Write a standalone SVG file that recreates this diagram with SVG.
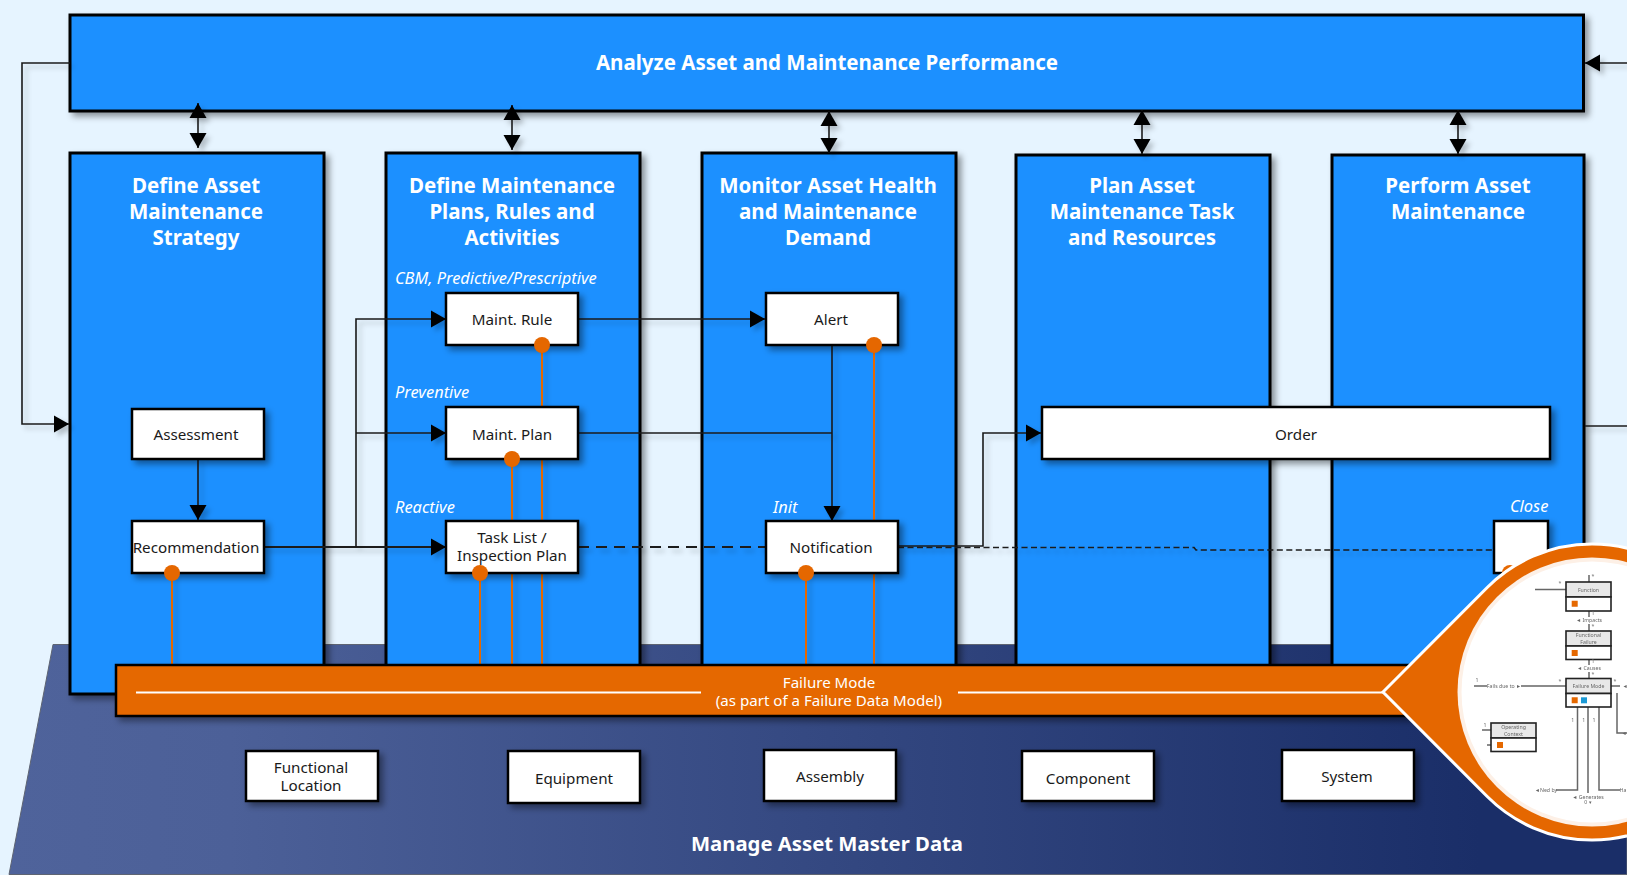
<svg xmlns="http://www.w3.org/2000/svg" width="1627" height="875" viewBox="0 0 1627 875">
<defs>
<linearGradient id="base" gradientUnits="userSpaceOnUse" x1="9" y1="0" x2="1480" y2="0"><stop offset="0" stop-color="#4f639b"/><stop offset="0.15" stop-color="#4c6098"/><stop offset="1" stop-color="#1a2e68"/></linearGradient>
<filter id="sh" x="-20%" y="-20%" width="150%" height="150%"><feDropShadow dx="4" dy="4" stdDeviation="3" flood-color="#000" flood-opacity="0.4"/></filter>
<filter id="lsh" filterUnits="userSpaceOnUse" x="0" y="0" width="1627" height="875"><feDropShadow dx="4" dy="4" stdDeviation="2.5" flood-color="#000" flood-opacity="0.22"/></filter>
<filter id="blur" filterUnits="userSpaceOnUse" x="1450" y="550" width="177" height="290"><feGaussianBlur stdDeviation="0.5"/></filter>
<marker id="a" markerUnits="userSpaceOnUse" markerWidth="17" markerHeight="19" refX="15" refY="9" orient="auto-start-reverse"><path d="M0,0.5 L15,9 L0,17.5 Z" fill="#000"/></marker>
</defs>
<style>
text{font-family:"Noto Sans","Open Sans","Liberation Sans",sans-serif;text-anchor:middle}
.col{fill:#1e90ff;stroke:#000;stroke-width:3}
.box{fill:#fff;stroke:#000;stroke-width:2.5}
.t{font-size:15.2px;fill:#1a1a1a}
.h{font-size:20.5px;font-weight:700;fill:#fff}
.i{font-size:16.4px;font-style:italic;fill:#fff;text-anchor:start}
.f{font-size:15.1px;fill:#fff}
.c{fill:none;stroke:#1a1a1a;stroke-width:1.6}
.o{fill:none;stroke:#e56700;stroke-width:2}
.d{fill:#e56700}
.g{fill:#e8e8e8;stroke:#222;stroke-width:1.6}
.w{fill:#fff;stroke:#222;stroke-width:1.6}
.m{font-size:5.2px;fill:#666}
.l{fill:none;stroke:#666;stroke-width:1.5}
</style>
<rect width="1627" height="875" fill="#e6f4ff"/>
<path id="base-shape" d="M53,644.5 H1627 V874.5 H9 Z" fill="url(#base)" stroke="#5e6472" stroke-width="1"/>
<g id="analyze"><rect class="col" x="70" y="15" width="1513.500" height="96" filter="url(#sh)"/><text class="h" x="827" y="70">Analyze Asset and Maintenance Performance</text></g>
<g id="col1"><rect class="col" x="70" y="153" width="254" height="541" filter="url(#sh)"/><text class="h"><tspan x="196" y="193">Define Asset</tspan><tspan x="196" y="219">Maintenance</tspan><tspan x="196" y="245">Strategy</tspan></text></g>
<g id="col2"><rect class="col" x="386" y="153" width="254" height="541" filter="url(#sh)"/><text class="h"><tspan x="512" y="193">Define Maintenance</tspan><tspan x="512" y="219">Plans, Rules and</tspan><tspan x="512" y="245">Activities</tspan></text><text class="i" x="395" y="284">CBM, Predictive/Prescriptive</text><text class="i" x="395" y="398">Preventive</text><text class="i" x="395" y="513">Reactive</text></g>
<g id="col3"><rect class="col" x="702" y="153" width="254" height="541" filter="url(#sh)"/><text class="h"><tspan x="828" y="193">Monitor Asset Health</tspan><tspan x="828" y="219">and Maintenance</tspan><tspan x="828" y="245">Demand</tspan></text><text class="i" x="773" y="513">Init</text></g>
<g id="col4"><rect class="col" x="1016" y="155" width="254" height="539" filter="url(#sh)"/><text class="h"><tspan x="1142" y="193">Plan Asset</tspan><tspan x="1142" y="219">Maintenance Task</tspan><tspan x="1142" y="245">and Resources</tspan></text></g>
<g id="col5"><rect class="col" x="1332" y="155" width="252" height="539" filter="url(#sh)"/><text class="h"><tspan x="1458" y="193">Perform Asset</tspan><tspan x="1458" y="219">Maintenance</tspan></text><text class="i" x="1510" y="512">Close</text></g>
<g id="connectors" filter="url(#lsh)">
<path class="c" d="M70,63 H22 V424 H69" marker-end="url(#a)"/>
<path class="c" d="M1627,63 H1585" marker-end="url(#a)"/>
<path class="c" d="M1585,426 H1627"/>
<path class="c" d="M198,103 V148" marker-start="url(#a)" marker-end="url(#a)"/>
<path class="c" d="M512,105 V150" marker-start="url(#a)" marker-end="url(#a)"/>
<path class="c" d="M829,111 V153" marker-start="url(#a)" marker-end="url(#a)"/>
<path class="c" d="M1142,110 V154" marker-start="url(#a)" marker-end="url(#a)"/>
<path class="c" d="M1458,110 V154" marker-start="url(#a)" marker-end="url(#a)"/>
<path class="c" d="M198,459 V520" marker-end="url(#a)"/>
<path class="c" style="stroke-width:2" d="M264,547 H446" marker-end="url(#a)"/>
<path class="c" d="M356,547 V319 H446" marker-end="url(#a)"/>
<path class="c" d="M356,433 H446" marker-end="url(#a)"/>
<path class="c" d="M578,319 H765" marker-end="url(#a)"/>
<path class="c" d="M578,433 H832"/>
<path class="c" d="M832,345 V521" marker-end="url(#a)"/>
<path class="c" style="stroke-width:2" d="M578,547 H765" stroke-dasharray="11 7"/>
<path class="c" d="M898,547.500 H1194 L1196,550 H1494" stroke-dasharray="6 3.500"/>
<path class="c" d="M898,546 H983 V433 H1041" marker-end="url(#a)"/>
<path class="o" d="M172,572 V665"/><path class="o" d="M480,572 V665"/><path class="o" d="M512,458 V665"/><path class="o" d="M542,344 V665"/><path class="o" d="M806,572 V665"/><path class="o" d="M874,344 V665"/>
</g>
<g id="assessment"><rect class="box" x="132" y="409" width="132" height="50" filter="url(#sh)"/><text class="t" x="196" y="440">Assessment</text></g>
<g id="recommendation"><rect class="box" x="132" y="521" width="132" height="52" filter="url(#sh)"/><text class="t" x="196" y="553">Recommendation</text><circle class="d" cx="172" cy="573" r="8"/></g>
<g id="rule"><rect class="box" x="446" y="293" width="132" height="52" filter="url(#sh)"/><text class="t" x="512" y="325">Maint. Rule</text><circle class="d" cx="542" cy="345" r="8"/></g>
<g id="plan"><rect class="box" x="446" y="407" width="132" height="52" filter="url(#sh)"/><text class="t" x="512" y="440">Maint. Plan</text><circle class="d" cx="512" cy="459" r="8"/></g>
<g id="task"><rect class="box" x="446" y="521" width="132" height="52" filter="url(#sh)"/><text class="t"><tspan x="512" y="543">Task List /</tspan><tspan x="512" y="561">Inspection Plan</tspan></text><circle class="d" cx="480" cy="573" r="8"/></g>
<g id="alert"><rect class="box" x="766" y="293" width="132" height="52" filter="url(#sh)"/><text class="t" x="831" y="325">Alert</text><circle class="d" cx="874" cy="345" r="8"/></g>
<g id="notification"><rect class="box" x="766" y="521" width="132" height="52" filter="url(#sh)"/><text class="t" x="831" y="553">Notification</text><circle class="d" cx="806" cy="573" r="8"/></g>
<g id="order"><rect class="box" x="1042" y="407" width="508" height="52" filter="url(#sh)"/><text class="t" x="1296" y="440">Order</text></g>
<g id="close"><rect class="box" x="1494" y="521" width="54" height="52" filter="url(#sh)"/><circle class="d" cx="1510" cy="573" r="8"/></g>
<g id="failure"><rect x="116" y="665" width="1320" height="51" fill="#e56700" stroke="#000" stroke-width="2.5" filter="url(#sh)"/><path d="M136,692.500 H701 M958,692.500 H1385" stroke="#fff" stroke-width="2" fill="none"/><text class="f"><tspan x="829" y="688">Failure Mode</tspan><tspan x="829" y="706">(as part of a Failure Data Model)</tspan></text></g>
<g id="functional"><rect class="box" x="246" y="751" width="132" height="50" filter="url(#sh)"/><text class="t"><tspan x="311" y="773">Functional</tspan><tspan x="311" y="791">Location</tspan></text></g>
<g id="equipment"><rect class="box" x="508" y="751" width="132" height="52" filter="url(#sh)"/><text class="t" x="574" y="784">Equipment</text></g>
<g id="assembly"><rect class="box" x="764" y="750" width="132" height="51" filter="url(#sh)"/><text class="t" x="830" y="782">Assembly</text></g>
<g id="component"><rect class="box" x="1022" y="751" width="132" height="50" filter="url(#sh)"/><text class="t" x="1088" y="784">Component</text></g>
<g id="system"><rect class="box" x="1282" y="750" width="132" height="51" filter="url(#sh)"/><text class="t" x="1347" y="782">System</text></g>
<text x="827" y="851" font-size="20.300" font-weight="700" fill="#fff">Manage Asset Master Data</text>
<g id="callout"><path d="M1383,692 L1487.200,587.500 A148,148 0 1 1 1487.200,796.500 Z" fill="#e56700" stroke="#fff" stroke-width="3"/><circle cx="1592" cy="692" r="134.500" fill="#fdf0e6"/><circle cx="1592" cy="692" r="130.500" fill="#fff"/>
<g id="inset" filter="url(#blur)">
<path class="l" d="M1589,575 V582 M1535,589.500 H1566 M1589,611 V631 M1589,659 V678 M1474,686 H1566 M1611,686 H1620 M1617,693 V733 H1627 M1577.500,707 V790 H1556 M1588,707 V795 M1599,707 V790 H1620 M1482,730 H1491 M1487,745 H1491"/>
<rect x="1566" y="582" width="45" height="15" class="g"/><rect x="1566" y="597" width="45" height="14" class="w"/>
<rect x="1566" y="631" width="45" height="15" class="g"/><rect x="1566" y="646" width="45" height="13.500" class="w"/>
<rect x="1566" y="678.500" width="45" height="15" class="g"/><rect x="1566" y="693.500" width="45" height="13.500" class="w"/>
<rect x="1491" y="723" width="45" height="15" class="g"/><rect x="1491" y="738" width="45" height="13.500" class="w"/>
<path class="d" d="M1571.700,600.700 h6 v6 h-6 Z M1571.700,650 h6 v6 h-6 Z M1571.700,697.300 h6 v6 h-6 Z M1497,742 h6 v6 h-6 Z"/>
<rect x="1581" y="697.300" width="6" height="6" fill="#1a9ad6"/>
<text class="m" x="1588.500" y="591.500">Function</text>
<text class="m"><tspan x="1588.500" y="637">Functional</tspan><tspan x="1588.500" y="643.500">Failure</tspan></text>
<text class="m" x="1588.500" y="688">Failure Mode</text>
<text class="m"><tspan x="1513.500" y="729">Operating</tspan><tspan x="1513.500" y="735.500">Context</tspan></text>
<rect x="1576" y="617" width="26" height="7" fill="#fff"/><text class="m" x="1589" y="622">◄ Impacts</text>
<rect x="1576" y="665" width="26" height="7" fill="#fff"/><text class="m" x="1589" y="670">◄ Causes</text>
<rect x="1487" y="682" width="34" height="7" fill="#fff"/><text class="m" x="1504" y="688">Fails due to ►</text>
<text class="m" x="1546" y="792">◄Ned by</text>
<rect x="1573" y="793" width="30" height="7" fill="#fff"/><text class="m" x="1588" y="798.500">◄ Generates</text>
<text class="m" x="1588" y="804">0 ▾</text>
<text class="m" x="1623" y="792">Ha</text>
<text class="m" x="1624" y="735">◄</text>
<text class="m" x="1625" y="688">◄</text>
<text class="m" x="1593" y="578">*</text><text class="m" x="1560" y="585">*</text><text class="m" x="1593" y="615">1</text><text class="m" x="1593" y="628">*</text><text class="m" x="1593" y="663">1</text><text class="m" x="1593" y="676">*</text><text class="m" x="1477" y="682">1</text><text class="m" x="1560" y="683">*</text><text class="m" x="1615" y="683">*</text><text class="m" x="1572.700" y="722">1</text><text class="m" x="1583.700" y="722">1</text><text class="m" x="1594" y="722">1</text><text class="m" x="1485" y="727">1</text>
</g></g>
</svg>
